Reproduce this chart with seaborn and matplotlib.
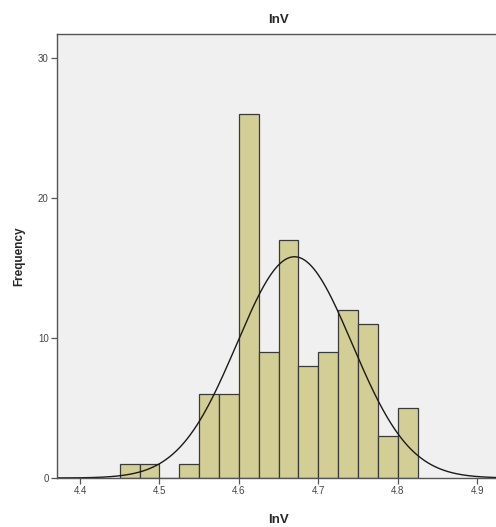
import numpy as np
import pandas as pd
import matplotlib
matplotlib.use("Agg")
import matplotlib.pyplot as plt
import seaborn as sns

# Data
bin_edges = [4.45, 4.475, 4.5, 4.525, 4.55, 4.575, 4.6, 4.625, 4.65, 4.675,
             4.7, 4.725, 4.75, 4.775, 4.8, 4.825]
counts = [1, 1, 0, 1, 6, 6, 26, 9, 17, 8, 9, 12, 11, 3, 5]
x_ticks = [4.4, 4.5, 4.6, 4.7, 4.8, 4.9]
y_ticks = [0, 10, 20, 30]
fit_mean = 4.67
fit_sd = 0.0726

sns.set_style("white")
plt.rcParams['font.family'] = ['Liberation Sans', 'DejaVu Sans']

fig = plt.figure(figsize=(4.96, 5.27), dpi=100)
ax = fig.add_axes([57/496, 49/527, 1 - 57/496 + 0.01, (478 - 34)/527])
ax.set_facecolor('#F0F0F0')

centers = [(bin_edges[i] + bin_edges[i + 1]) / 2 for i in range(len(counts))]
df = pd.DataFrame({'lnV': centers, 'n': counts})
sns.histplot(data=df, x='lnV', weights='n', bins=bin_edges, ax=ax,
             color='#D3CE96', edgecolor='#3a3a3a', linewidth=0.9, alpha=1.0)

n_total = sum(counts)
bw = bin_edges[1] - bin_edges[0]
xs = np.linspace(4.36, 4.93, 400)
ys = n_total * bw / (fit_sd * np.sqrt(2 * np.pi)) * np.exp(-0.5 * ((xs - fit_mean) / fit_sd) ** 2)
sns.lineplot(x=xs, y=ys, ax=ax, color='#1a1a1a', linewidth=1.0)

ax.set_xlim(4.371, 4.93)
ax.set_ylim(0, 31.7)
ax.set_xticks(x_ticks)
ax.set_xticklabels([f"{v:.1f}" for v in x_ticks])
ax.set_yticks(y_ticks)
ax.tick_params(axis='both', which='major', bottom=True, left=True,
               direction='out', length=4, width=0.9, colors='#555555',
               labelsize=7, labelcolor='#444444', pad=2)
for s in ['left', 'top', 'bottom']:
    ax.spines[s].set_color('#555555')
    ax.spines[s].set_linewidth(1.0)
ax.spines['right'].set_visible(False)

ax.set_title('lnV', fontsize=9.5, fontweight='bold', pad=8)
ax.set_xlabel('lnV', fontsize=9.5, fontweight='bold', labelpad=13)
ax.set_ylabel('Frequency', fontsize=8.5, fontweight='bold', labelpad=9)

fig.savefig('out.png', dpi=100)
